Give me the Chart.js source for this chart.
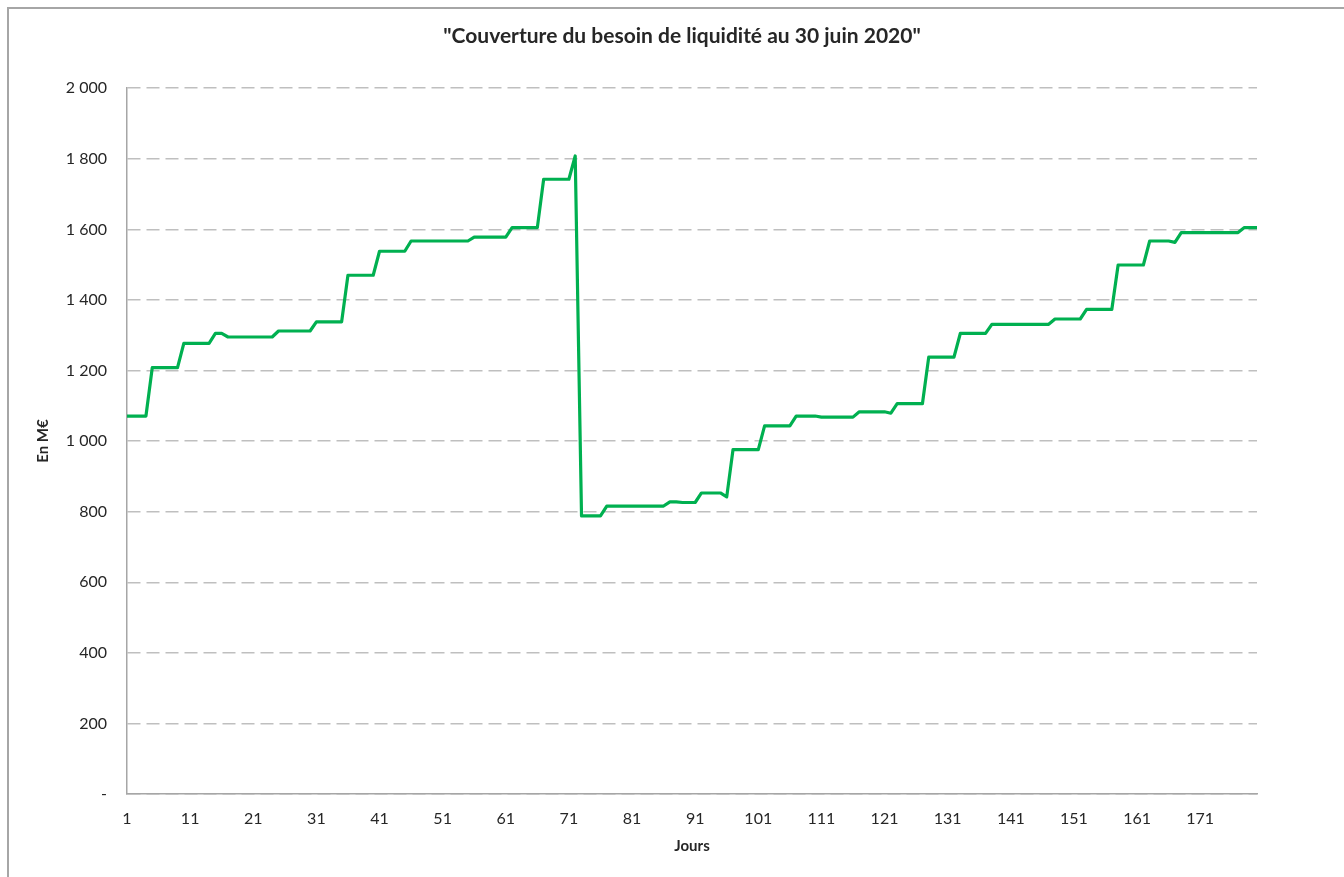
<!DOCTYPE html>
<html>
<head>
<meta charset="utf-8">
<script src="https://cdn.jsdelivr.net/npm/chart.js@4"></script>
<style>
  html, body { margin: 0; padding: 0; background: #fff; overflow: hidden; }
  #frame { position: absolute; left: 7px; top: 7px; width: 1400px; height: 900px;
           border-left: 2px solid #a6a6a6; border-top: 2px solid #a6a6a6; }
  #wrap { position: absolute; left: 0; top: 0; width: 1344px; height: 877px; }
</style>
</head>
<body>
<div id="frame"></div>
<div id="wrap"><canvas id="myChart"></canvas></div>
<script>
// jours 1..180
var days = Array.from({ length: 180 }, function (_, i) { return i + 1; });

// couverture du besoin de liquidité, en M€
var couverture = [
    1071, 1071, 1071, 1071, 1208, 1208, 1208, 1208, 1208, 1277,
    1277, 1277, 1277, 1277, 1305, 1305, 1295, 1295, 1295, 1295,
    1295, 1295, 1295, 1295, 1312, 1312, 1312, 1312, 1312, 1312,
    1338, 1338, 1338, 1338, 1338, 1470, 1470, 1470, 1470, 1470,
    1538, 1538, 1538, 1538, 1538, 1567, 1567, 1567, 1567, 1567,
    1567, 1567, 1567, 1567, 1567, 1578, 1578, 1578, 1578, 1578,
    1578, 1605, 1605, 1605, 1605, 1605, 1742, 1742, 1742, 1742,
    1742, 1808, 788, 788, 788, 788, 816, 816, 816, 816,
    816, 816, 816, 816, 816, 816, 828, 828, 826, 826,
    826, 853, 853, 853, 853, 842, 976, 976, 976, 976,
    976, 1043, 1043, 1043, 1043, 1043, 1071, 1071, 1071, 1071,
    1068, 1068, 1068, 1068, 1068, 1068, 1083, 1083, 1083, 1083,
    1083, 1079, 1106, 1106, 1106, 1106, 1106, 1238, 1238, 1238,
    1238, 1238, 1305, 1305, 1305, 1305, 1305, 1331, 1331, 1331,
    1331, 1331, 1331, 1331, 1331, 1331, 1331, 1346, 1346, 1346,
    1346, 1346, 1373, 1373, 1373, 1373, 1373, 1499, 1499, 1499,
    1499, 1499, 1567, 1567, 1567, 1567, 1563, 1591, 1591, 1591,
    1591, 1591, 1591, 1591, 1591, 1591, 1591, 1605, 1605, 1605
];

// un libellé tous les 10 jours
var xLabelEvery = 10;
var yTicks = [0, 200, 400, 600, 800, 1000, 1200, 1400, 1600, 1800, 2000];

function fmtMillier(v) {
    if (v === 0) return '-';
    if (v < 1000) return String(v);
    return Math.floor(v / 1000) + ' ' + String(v % 1000).padStart(3, '0');
}

var txt = '#262626';
var ctx = document.getElementById('myChart').getContext('2d');
var myChart = new Chart(ctx, {
    type: 'line',
    data: {
        labels: days,
        datasets: [{
            label: 'Couverture',
            data: couverture,
            borderColor: '#00b050',
            backgroundColor: '#00b050',
            borderWidth: 3.2,
            borderJoinStyle: 'round',
            pointRadius: 0,
            tension: 0,
            fill: false
        }]
    },
    options: {
        responsive: true,
        maintainAspectRatio: false,
        animation: false,
        layout: {
            padding: { left: 20, right: 0, top: 0, bottom: 13 }
        },
        plugins: {
            legend: { display: false },
            tooltip: { enabled: false },
            title: {
                display: true,
                text: '"Couverture du besoin de liquidité au 30 juin 2020"',
                color: txt,
                font: { family: 'Lato', size: 21, weight: 'bold' },
                padding: { top: 24, bottom: 39 }
            }
        },
        scales: {
            x: {
                type: 'category',
                grid: { display: false, drawTicks: false },
                border: { display: true, color: '#a6a6a6', width: 1.5 },
                afterFit: function (scale) { scale.height = 70; },
                ticks: {
                    autoSkip: false,
                    maxRotation: 0,
                    padding: 15,
                    color: txt,
                    font: { family: 'Lato', size: 16 },
                    callback: function (v, i) {
                        return i % xLabelEvery === 0 ? String(days[i]) : '';
                    }
                },
                title: {
                    display: true,
                    text: 'Jours',
                    color: txt,
                    font: { family: 'Lato', size: 15, weight: 'bold' },
                    padding: { top: 0, bottom: 9 }
                }
            },
            y: {
                min: yTicks[0],
                max: yTicks[yTicks.length - 1],
                afterFit: function (scale) { scale.width = 107; },
                afterBuildTicks: function (scale) {
                    scale.ticks = yTicks.map(function (v) { return { value: v }; });
                },
                grid: { color: '#bfbfbf', lineWidth: 1.5, drawTicks: false },
                border: { display: true, color: '#a6a6a6', width: 1.5, dash: [13, 6] },
                ticks: {
                    padding: 20,
                    color: txt,
                    font: { family: 'Lato', size: 16 },
                    callback: function (v) { return fmtMillier(v); }
                },
                title: {
                    display: true,
                    text: 'En M€',
                    color: txt,
                    font: { family: 'Lato', size: 15, weight: 'bold' },
                    padding: { top: 14, bottom: 0 }
                }
            },
            // marge droite vide, comme dans le graphique d'origine
            droite: {
                position: 'right',
                display: true,
                grid: { display: false, drawTicks: false },
                border: { display: false },
                ticks: { display: false },
                afterFit: function (scale) { scale.width = 87; }
            }
        }
    }
});
</script>
</body>
</html>
